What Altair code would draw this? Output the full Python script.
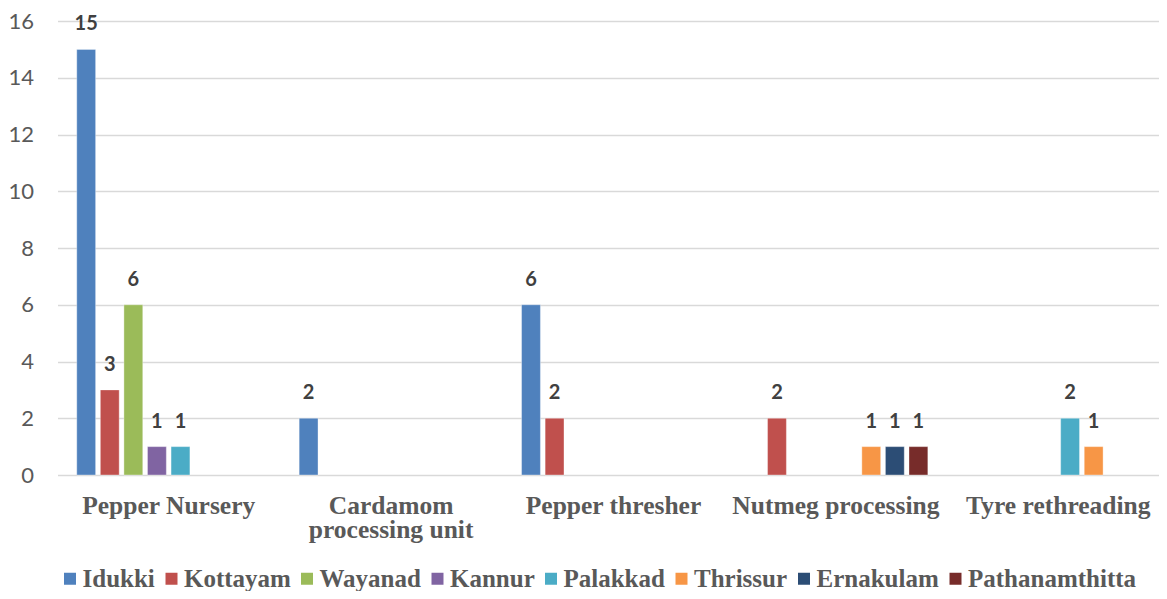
import altair as alt
import pandas as pd

activities = ["Pepper Nursery", "Cardamom processing unit", "Pepper thresher",
              "Nutmeg processing", "Tyre rethreading"]
districts = ["Idukki", "Kottayam", "Wayanad", "Kannur", "Palakkad",
             "Thrissur", "Ernakulam", "Pathanamthitta"]
colors = ["#4F81BD", "#C0504D", "#9BBB59", "#8064A2", "#4BACC6",
          "#F79646", "#2C4D75", "#772C2A"]

idukki = [15, 2, 6, 0, 0]
kottayam = [3, 0, 2, 2, 0]
wayanad = [6, 0, 0, 0, 0]
kannur = [1, 0, 0, 0, 0]
palakkad = [1, 0, 0, 0, 2]
thrissur = [0, 0, 0, 1, 1]
ernakulam = [0, 0, 0, 1, 0]
pathanamthitta = [0, 0, 0, 1, 0]

series = [idukki, kottayam, wayanad, kannur, palakkad, thrissur, ernakulam, pathanamthitta]
rows = []
for d, vals in zip(districts, series):
    for a, v in zip(activities, vals):
        if v > 0:
            rows.append({"activity": a, "district": d, "value": v})
df = pd.DataFrame(rows)

base = alt.Chart(df).encode(
    x=alt.X("activity:N", sort=activities,
            scale=alt.Scale(domain=activities, range=[0, 1112],
                            paddingInner=0.152, paddingOuter=0.076),
            axis=alt.Axis(title=None, labelAngle=0, ticks=False, domain=False, grid=False,
                          labelFont="Liberation Serif", labelFontSize=25.5, labelFontWeight="bold",
                          labelColor="#595959", labelPadding=18, labelLimit=400,
                          labelLineHeight=24,
                          labelExpr="datum.label == 'Cardamom processing unit' ? ['Cardamom', 'processing unit'] : datum.label")),
    xOffset=alt.XOffset("district:N",
                        scale=alt.Scale(domain=districts, paddingInner=0.2, paddingOuter=0.1)),
    y=alt.Y("value:Q", scale=alt.Scale(domain=[0, 16]),
            axis=alt.Axis(title=None, values=list(range(0, 17, 2)), ticks=False, domain=False,
                          grid=True, gridColor="#D9D9D9", gridWidth=1.3,
                          labelFont="Lato", labelFontSize=22, labelColor="#595959",
                          labelPadding=24)),
)

bars = base.mark_bar(stroke="white", strokeWidth=0.8, strokeOpacity=0.45).encode(
    color=alt.Color("district:N", scale=alt.Scale(domain=districts, range=colors),
                    legend=alt.Legend(title=None, orient="none", legendX=0, legendY=545,
                                      direction="horizontal", symbolType="square",
                                      symbolSize=144, symbolStrokeWidth=0,
                                      labelFont="Liberation Serif", labelFontSize=25,
                                      labelFontWeight="bold", labelColor="#595959",
                                      columnPadding=3.5, labelOffset=0, padding=0,
                                      labelLimit=400))
)

labels = base.mark_text(baseline="alphabetic", dy=-19, font="Lato", fontSize=20,
                        fontWeight="bold", color="#404040").encode(text="value:Q")

chart = alt.layer(bars, labels).properties(
    width=1101, height=454,
    autosize=alt.AutoSizeParams(type="none"),
    padding={"left": 49.5, "top": 13, "right": 0, "bottom": 116},
).configure_view(stroke=None)

chart.save("out.html", embed_options={"renderer": "svg", "actions": False})
